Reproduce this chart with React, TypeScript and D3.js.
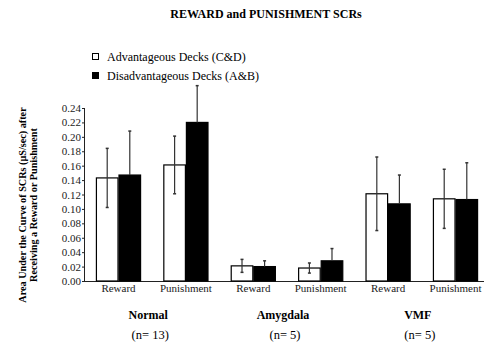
import { useEffect, useRef } from "react";
import * as d3 from "d3";

const CONDITIONS = ["Reward", "Punishment", "Reward", "Punishment", "Reward", "Punishment"];
const GROUPS = ["Normal", "Amygdala", "VMF"];
const GROUP_N = ["(n= 13)", "(n= 5)", "(n= 5)"];
const SERIES = ["Advantageous Decks (C&D)", "Disadvantageous Decks (A&B)"];

const ADV_MEAN = [0.143, 0.161, 0.021, 0.018, 0.121, 0.114];
const ADV_ERR = [0.041, 0.04, 0.009, 0.007, 0.051, 0.041];
const DIS_MEAN = [0.147, 0.22, 0.02, 0.028, 0.107, 0.113];
const DIS_ERR = [0.061, 0.051, 0.008, 0.017, 0.04, 0.051];

const Y_TICKS = d3.range(0, 0.2401, 0.02);

const FONT = "'Liberation Serif', 'Times New Roman', serif";

export default function App() {
  const svgRef = useRef<SVGSVGElement>(null);

  useEffect(() => {
    if (!svgRef.current) return;
    const svg = d3.select(svgRef.current);
    svg.selectAll("*").remove();

    const x0 = 85;
    const x1 = 489;
    const yBase = 281;
    const yTop = 108;

    const x = d3.scaleBand<number>()
      .domain(d3.range(CONDITIONS.length))
      .range([x0, x1])
      .paddingInner(0.33)
      .paddingOuter(0.162);
    const xs = d3.scaleBand<number>().domain([0, 1]).range([0, x.bandwidth()]);
    const y = d3.scaleLinear().domain([0, 0.24]).range([yBase, yTop]);

    // title
    svg.append("text")
      .attr("x", 266).attr("y", 18)
      .attr("text-anchor", "middle")
      .attr("font-family", FONT).attr("font-weight", "bold").attr("font-size", "12px")
      .text("REWARD and PUNISHMENT SCRs");

    // legend
    SERIES.forEach((s, i) => {
      svg.append("rect")
        .attr("x", 92.5).attr("y", 53.5 + i * 19)
        .attr("width", 6).attr("height", 6)
        .attr("fill", i === 0 ? "#fff" : "#000")
        .attr("stroke", "#000").attr("stroke-width", 1);
      svg.append("text")
        .attr("x", 107).attr("y", 61 + i * 19)
        .attr("font-family", FONT).attr("font-size", "12px")
        .text(s);
    });

    // y axis
    svg.append("g")
      .attr("transform", `translate(${x0},0)`)
      .call(d3.axisLeft(y).tickValues(Y_TICKS).tickSize(3).tickFormat(d3.format(".2f")))
      .call((g) => g.select(".domain").attr("d", `M-0.5,${yTop}V${yBase}`).attr("stroke", "#222"))
      .call((g) => g.selectAll(".tick line").attr("stroke", "#222"))
      .call((g) => g.selectAll(".tick text")
        .attr("font-family", FONT).attr("font-size", "11px").attr("fill", "#222").attr("x", -4));

    // baseline
    svg.append("line")
      .attr("x1", x0 - 0.5).attr("x2", 484)
      .attr("y1", yBase + 0.5).attr("y2", yBase + 0.5)
      .attr("stroke", "#222").attr("stroke-width", 1.2);

    const series = [
      { mean: ADV_MEAN, err: ADV_ERR, fill: "#fff" },
      { mean: DIS_MEAN, err: DIS_ERR, fill: "#000" },
    ];

    series.forEach((s, si) => {
      s.mean.forEach((m, i) => {
        const bx = (x(i) ?? 0) + (xs(si) ?? 0);
        const cx = bx + xs.bandwidth() / 2;
        svg.append("rect")
          .attr("x", bx + 0.5).attr("y", y(m))
          .attr("width", xs.bandwidth() - 1).attr("height", yBase - y(m))
          .attr("fill", s.fill).attr("stroke", "#000").attr("stroke-width", 1.2);
        const hi = y(m + s.err[i]);
        // the lower half disappears inside the black bars
        const lo = si === 0 ? y(m - s.err[i]) : y(m);
        svg.append("line")
          .attr("x1", cx).attr("x2", cx).attr("y1", hi).attr("y2", lo)
          .attr("stroke", "#333").attr("stroke-width", 1.2);
        (si === 0 ? [hi, lo] : [hi]).forEach((yy) => {
          svg.append("line")
            .attr("x1", cx - 1.5).attr("x2", cx + 1.5).attr("y1", yy).attr("y2", yy)
            .attr("stroke", "#333").attr("stroke-width", 1.5);
        });
      });
    });

    // condition labels
    CONDITIONS.forEach((c, i) => {
      svg.append("text")
        .attr("x", (x(i) ?? 0) + x.bandwidth() / 2).attr("y", 292)
        .attr("text-anchor", "middle")
        .attr("font-family", FONT).attr("font-size", "11px").attr("fill", "#222")
        .text(c);
    });

    // group labels
    GROUPS.forEach((g, gi) => {
      const cx = ((x(gi * 2) ?? 0) + (x(gi * 2 + 1) ?? 0) + x.bandwidth()) / 2 - 4;
      svg.append("text")
        .attr("x", cx).attr("y", 319)
        .attr("text-anchor", "middle")
        .attr("font-family", FONT).attr("font-weight", "bold").attr("font-size", "12px")
        .text(g);
      svg.append("text")
        .attr("x", cx + 2).attr("y", 339)
        .attr("text-anchor", "middle")
        .attr("font-family", FONT).attr("font-size", "12.5px")
        .text(GROUP_N[gi]);
    });

    // y label
    const yl = svg.append("text")
      .attr("transform", "translate(26,205) rotate(-90)")
      .attr("text-anchor", "middle")
      .attr("font-family", FONT).attr("font-weight", "bold").attr("font-size", "10.2px");
    yl.append("tspan").attr("x", 0).attr("dy", 0).text("Area Under the Curve of SCRs (µS/sec) after");
    yl.append("tspan").attr("x", 0).attr("dy", 11).text("Receiving a Reward or Punishment");
  }, []);

  return (
    <svg ref={svgRef} width={498} height={351}
      style={{ position: "absolute", left: 0, top: 0, background: "#fff" }} />
  );
}
